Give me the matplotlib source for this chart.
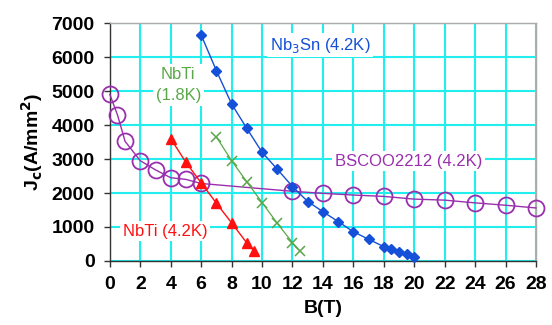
import matplotlib
matplotlib.use("Agg")
import matplotlib.pyplot as plt

# Critical current density vs. field for several superconductors
b_nb3sn = [6, 7, 8, 9, 10, 11, 12, 13, 14, 15, 16, 17, 18, 18.5, 19, 19.5, 20]
jc_nb3sn = [6650, 5600, 4620, 3900, 3200, 2700, 2190, 1750, 1450, 1160, 860, 640, 420, 350, 270, 200, 130]

b_nbti_42 = [4, 5, 6, 7, 8, 9, 9.5]
jc_nbti_42 = [3600, 2900, 2300, 1700, 1120, 530, 280]

b_nbti_18 = [7, 8, 9, 10, 11, 12, 12.5]
jc_nbti_18 = [3650, 2950, 2330, 1720, 1110, 540, 280]

b_bscco = [0, 0.5, 1, 2, 3, 4, 5, 6, 12, 14, 16, 18, 20, 22, 24, 26, 28]
jc_bscco = [4900, 4300, 3520, 2950, 2680, 2450, 2400, 2280, 2050, 1990, 1940, 1900, 1820, 1790, 1710, 1640, 1560]

x_ticks = list(range(0, 29, 2))
y_ticks = list(range(0, 7001, 1000))

plt.rcParams["font.family"] = ["Liberation Sans", "DejaVu Sans"]

fig = plt.figure(figsize=(5.52, 3.25), dpi=100)
ax = fig.add_axes([0.199, 0.197, 0.772, 0.732])

blue = "#1450d8"
red = "#ff1010"
green = "#5aa84a"
purple = "#9a2fae"

ax.plot(b_bscco, jc_bscco, color=purple, lw=1.0, marker="o", ms=11.5,
        mfc="none", mec=purple, mew=1.3, zorder=3, clip_on=False)
ax.plot(b_nbti_18, jc_nbti_18, color=green, lw=0.9, marker="x", ms=7,
        mew=1.1, zorder=4, clip_on=False)
ax.plot(b_nbti_42, jc_nbti_42, color=red, lw=1.0, marker="^", ms=7,
        mec=red, mfc=red, zorder=5, clip_on=False)
ax.plot(b_nb3sn, jc_nb3sn, color=blue, lw=1.0, marker="D", ms=5,
        mec=blue, mfc=blue, zorder=6, clip_on=False)

ax.set_xlim(0, 28)
ax.set_ylim(0, 7000)
ax.set_xticks(x_ticks)
ax.set_yticks(y_ticks)
ax.grid(True, color="#22eeee", lw=1.5, zorder=0)
ax.set_axisbelow(True)

for s in ("top", "right"):
    ax.spines[s].set_color("#aaaaaa")
    ax.spines[s].set_linewidth(1.0)
for s in ("left", "bottom"):
    ax.spines[s].set_color("#333333")
    ax.spines[s].set_linewidth(1.0)

ax.tick_params(axis="both", direction="out", length=4, width=1, color="#333333",
               labelsize=14, pad=7)
for lab in ax.get_xticklabels() + ax.get_yticklabels():
    lab.set_fontweight("bold")

ax.set_xlabel("B(T)", fontsize=14, fontweight="bold", labelpad=5)
ax.set_ylabel(r"J$_\mathbf{c}$(A/mm$^\mathbf{2}$)", fontsize=14, fontweight="bold", labelpad=5)

box = dict(facecolor="white", edgecolor="none", pad=2)
ax.text(10.5, 6350, r"Nb$_3$Sn (4.2K)", color=blue, fontsize=12, va="center",
        ha="left", bbox=box, zorder=7)
ax.text(4.5, 5180, "NbTi\n(1.8K)", color=green, fontsize=12, va="center",
        ha="center", linespacing=1.5, bbox=box, zorder=7)
ax.text(14.8, 2940, "BSCOO2212 (4.2K)", color=purple, fontsize=12, va="center",
        ha="left", bbox=box, zorder=2)
ax.text(0.85, 880, "NbTi (4.2K)", color=red, fontsize=12, va="center",
        ha="left", bbox=box, zorder=2)

fig.savefig("out.png", dpi=100, facecolor="white")
